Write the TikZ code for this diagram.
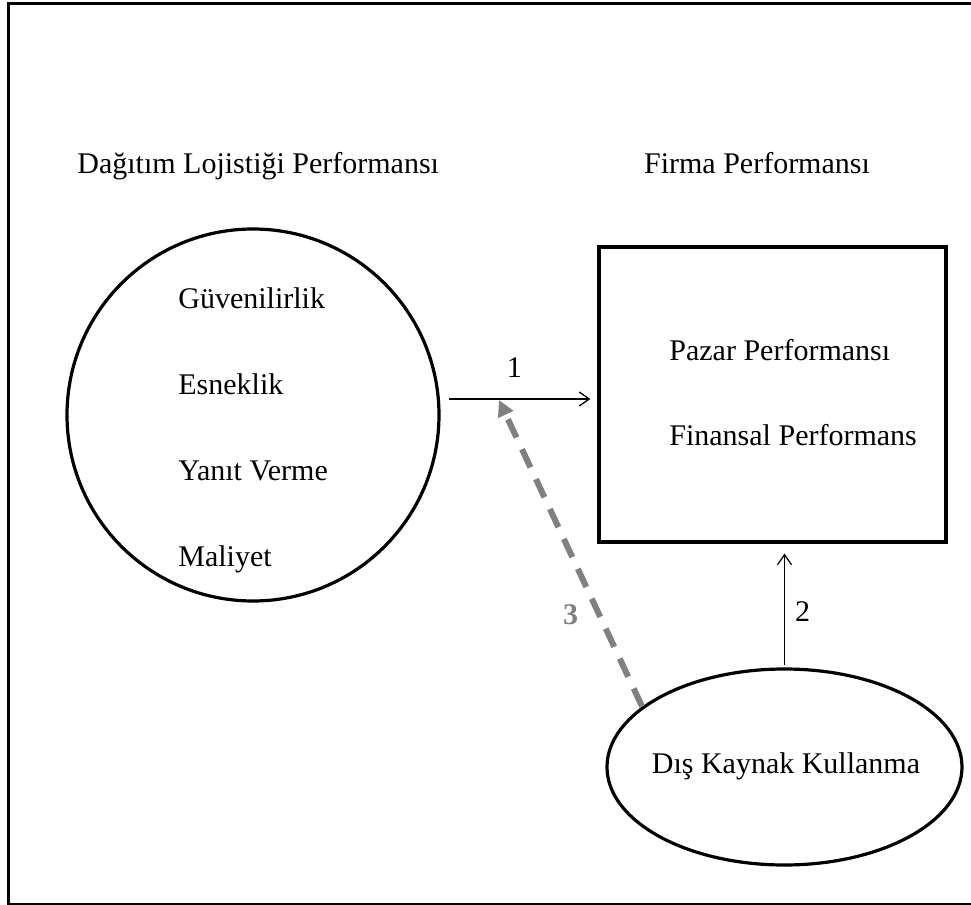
\documentclass[tikz,border=0pt]{standalone}
\usepackage{fontspec}
\setmainfont{Liberation Serif}
\usetikzlibrary{arrows.meta,shapes.geometric}

\begin{document}
\begin{tikzpicture}[x=0.5pt,y=-0.5pt,>={Straight Barb[length=5pt,width=7pt]},
	every node/.style={font=\fontsize{15}{18}\selectfont, inner sep=0pt},
	txt/.style={anchor=base west},
	shapeline/.style={draw, line width=1.6pt},
	link/.style={->, line width=0.65pt},
	dashlink/.style={-{Triangle[length=8pt,width=8pt]}, draw=gray,
		line width=3pt, dash pattern=on 10pt off 6.5pt}]

	\useasboundingbox (0,0) rectangle (971,905);
	\clip (0,0) rectangle (971,905);
	\draw [line width=1.6pt] (8.5,3.5) rectangle (980,904.5);

	% main shapes
	\node [shapeline, circle, minimum size=186pt] (dlp) at (253,415) {};
	\node [shapeline, rectangle, minimum width=173.5pt, minimum height=147.5pt] (fp) at (772.5,394.5) {};
	\node [shapeline, ellipse, minimum width=177.5pt, minimum height=98pt] (dkk) at (784.5,767) {};

	% titles
	\node [txt] (baslik1) at (77,173) {Dağıtım Lojistiği Performansı};
	\node [anchor=base] (baslik2) at (757,173) {Firma Performansı};

	\foreach \t [count=\i] in {Güvenilirlik, Esneklik, Yanıt Verme, Maliyet}
	\node [txt] (boyut\i) at (178,{308+86.3*(\i-1)}) {\t};

	\node [txt] (pazar) at (669,360) {Pazar Performansı};
	\node [txt] (finans) at (669,445) {Finansal Performans};
	\node [anchor=base] (dis) at (786,773) {Dış Kaynak Kullanma};

	% connectors
	\coordinate (a1) at (449,399);
	\draw [link, shorten >=3.5pt] (a1) -- (a1 -| fp.west) node [pos=0.44, above=10.5pt] {1};
	\draw [link, shorten <=1pt, shorten >=5pt] (dkk.north) -- (dkk.north |- fp.south)
		node [pos=0.45, right=5pt] {2};
	\coordinate (t3) at (499,400);
	\draw [dashlink] (dkk.157) -- (t3) node [pos=0.3, left=9pt, text=gray] {\bfseries 3};

\end{tikzpicture}
\end{document}
